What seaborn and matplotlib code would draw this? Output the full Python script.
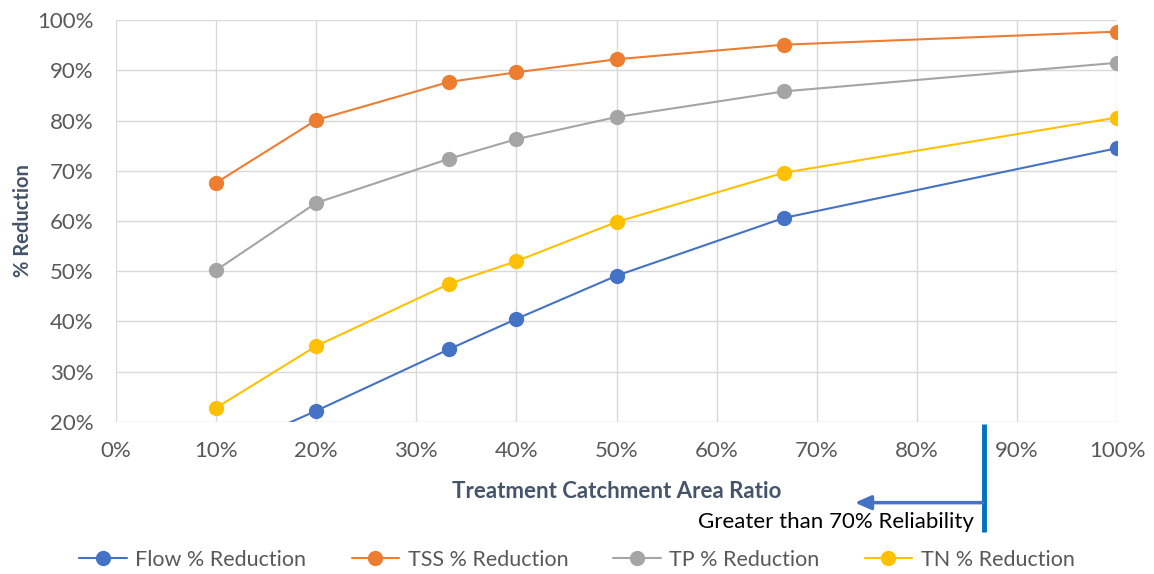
import numpy as np
import pandas as pd
import matplotlib
matplotlib.use("Agg")
import matplotlib.pyplot as plt
import seaborn as sns
from matplotlib.lines import Line2D

ratio = [10, 20, 33.3, 40, 50, 66.7, 100]
flow = [13.4, 22.2, 34.5, 40.5, 49.1, 60.6, 74.5]
tss = [67.6, 80.1, 87.7, 89.6, 92.2, 95.1, 97.7]
tp = [50.2, 63.6, 72.4, 76.3, 80.7, 85.8, 91.5]
tn = [22.8, 35.1, 47.5, 52.0, 59.8, 69.6, 80.6]
series_names = ["Flow % Reduction", "TSS % Reduction", "TP % Reduction", "TN % Reduction"]
colors = ["#4472C4", "#ED7D31", "#A5A5A5", "#FFC000"]
x_ticks = list(range(0, 101, 10))
y_ticks = list(range(20, 101, 10))

sns.set_theme(style="white")
plt.rcParams['font.family'] = ['Lato', 'DejaVu Sans']

rows = []
for name, vals in zip(series_names, [flow, tss, tp, tn]):
    for x, v in zip(ratio, vals):
        rows.append({"ratio": x, "val": v, "series": name})
df = pd.DataFrame(rows)

fig = plt.figure(figsize=(11.54, 5.74), dpi=100)
ax = fig.add_axes([0.1005, 0.265, 0.8675, 0.7])

sns.lineplot(data=df, x="ratio", y="val", hue="series", hue_order=series_names,
             palette=colors, marker="o", markersize=11, markeredgewidth=0,
             linewidth=1.5, ax=ax, legend=False, sort=False)

ax.set_xlim(0, 100)
ax.set_ylim(20, 100)
ax.set_xticks(x_ticks)
ax.set_yticks(y_ticks)
ax.set_xticklabels([f"{t}%" for t in x_ticks])
ax.set_yticklabels([f"{t}%" for t in y_ticks])
ax.tick_params(axis='both', labelsize=16, colors="#595959", length=0)
ax.tick_params(axis='x', pad=14)
ax.tick_params(axis='y', pad=16)
ax.grid(True, color="#D9D9D9", linewidth=1)
for s in ax.spines.values():
    s.set_visible(False)
ax.set_axisbelow(True)

ax.set_xlabel("Treatment Catchment Area Ratio", fontsize=16, fontweight="bold",
              color="#44546A", labelpad=14)
ax.set_ylabel("% Reduction", fontsize=14.5, fontweight="bold", color="#44546A", labelpad=3)

# annotation: reliability marker
ax.plot([0.867, 0.867], [-0.005, -0.274], transform=ax.transAxes, color="#0070C0",
        linewidth=3.5, clip_on=False, solid_capstyle="butt")
ax.annotate("", xy=(0.738, -0.201), xytext=(0.866, -0.201), xycoords="axes fraction",
            textcoords="axes fraction",
            arrowprops=dict(arrowstyle="-|>,head_length=0.8,head_width=0.35",
                            color="#4472C4", lw=2.5, shrinkA=0, shrinkB=0))
ax.text(0.857, -0.25, "Greater than 70% Reliability", transform=ax.transAxes,
        ha="right", va="center", fontsize=16, color="black")

handles = [Line2D([0], [0], color=c, marker="o", markersize=11, markeredgewidth=0,
                  linewidth=1.5) for c in colors]
fig.legend(handles, series_names, loc="center", bbox_to_anchor=(0.5, 0.025), ncol=4,
           frameon=False, fontsize=15.5, labelcolor="#595959", columnspacing=2.1,
           handlelength=2.2, handletextpad=0.4)

fig.savefig("out.png", dpi=100)
